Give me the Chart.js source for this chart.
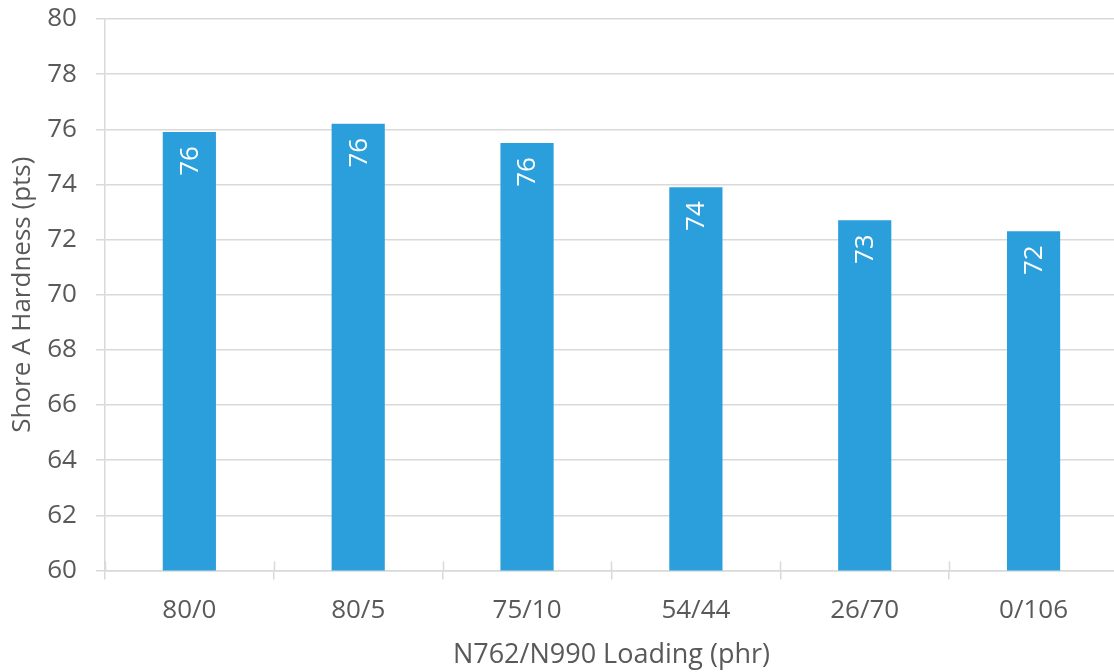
<!DOCTYPE html>
<html>
<head>
<meta charset="utf-8">
<script src="https://cdn.jsdelivr.net/npm/chart.js@4/dist/chart.umd.min.js"></script>
<style>
  html, body { margin: 0; padding: 0; background: #ffffff; overflow: hidden; }
  #wrap { width: 1120px; height: 672px; }
</style>
</head>
<body>
<div id="wrap"><canvas id="chart" width="1120" height="672"></canvas></div>
<script>
// N762/N990 carbon black blends and measured Shore A hardness
const loadings = ['80/0', '80/5', '75/10', '54/44', '26/70', '0/106'];
const hardness = [75.9, 76.2, 75.5, 73.9, 72.7, 72.3];
const yTicks = { min: 60, max: 80, step: 2 };

const FONT = "'Open Sans', 'Liberation Sans', sans-serif";
const TEXT = '#595959';
const GRID = '#d9d9d9';
const BAR = '#2b9fdb';

// White rotated value labels just inside the top of each bar
const barValueLabels = {
  id: 'barValueLabels',
  afterDatasetsDraw(chart) {
    const ctx = chart.ctx;
    const meta = chart.getDatasetMeta(0);
    ctx.save();
    ctx.fillStyle = '#ffffff';
    ctx.font = '26px ' + FONT;
    ctx.textAlign = 'right';
    ctx.textBaseline = 'middle';
    meta.data.forEach((bar, i) => {
      const v = chart.data.datasets[0].data[i];
      ctx.save();
      ctx.translate(bar.x + 1, bar.y + 14);
      ctx.rotate(-Math.PI / 2);
      ctx.fillText(String(Math.round(v)), 0, 0);
      ctx.restore();
    });
    ctx.restore();
  }
};

// Category tick marks that cross the horizontal axis line
const crossTicks = {
  id: 'crossTicks',
  afterDraw(chart) {
    const ctx = chart.ctx;
    const xs = chart.scales.x;
    const bottom = chart.chartArea.bottom;
    const half = (xs.getPixelForValue(1) - xs.getPixelForValue(0)) / 2;
    ctx.save();
    ctx.strokeStyle = GRID;
    ctx.lineWidth = 1.5;
    for (let i = 0; i <= loadings.length; i++) {
      const x = Math.round(xs.getPixelForValue(0) - half + i * half * 2) + 0.5;
      ctx.beginPath();
      ctx.moveTo(x, bottom - 9);
      ctx.lineTo(x, bottom);
      ctx.stroke();
    }
    ctx.restore();
  }
};

new Chart(document.getElementById('chart'), {
  type: 'bar',
  data: {
    labels: loadings,
    datasets: [{
      data: hardness,
      backgroundColor: BAR,
      borderWidth: 0,
      categoryPercentage: 1,
      barPercentage: 0.315
    }]
  },
  options: {
    responsive: false,
    animation: false,
    layout: { padding: { top: 0, right: 2, left: 0, bottom: 0 } },
    plugins: { legend: { display: false }, tooltip: { enabled: false } },
    scales: {
      x: {
        offset: true,
        grid: {
          offset: true,
          drawOnChartArea: false,
          color: GRID,
          lineWidth: 1.5,
          tickLength: 9
        },
        border: { color: GRID, width: 1.5 },
        ticks: { color: TEXT, font: { family: FONT, size: 26 }, padding: 16 },
        title: {
          display: true,
          text: 'N762/N990 Loading (phr)',
          color: TEXT,
          font: { family: FONT, size: 27 },
          padding: { top: -3, bottom: 0 }
        }
      },
      y: {
        min: yTicks.min,
        max: yTicks.max,
        grid: { color: GRID, lineWidth: 1.5, tickLength: 9 },
        border: { color: GRID, width: 1.5 },
        ticks: {
          stepSize: yTicks.step,
          color: TEXT,
          font: { family: FONT, size: 26 },
          padding: 19
        },
        // leave only a small margin above the top gridline
        afterFit(scale) { scale.paddingTop = 19; },
        title: {
          display: true,
          text: 'Shore A Hardness (pts)',
          color: TEXT,
          font: { family: FONT, size: 26 },
          padding: { top: 7, bottom: -10 }
        }
      }
    }
  },
  plugins: [barValueLabels, crossTicks]
});
</script>
</body>
</html>
